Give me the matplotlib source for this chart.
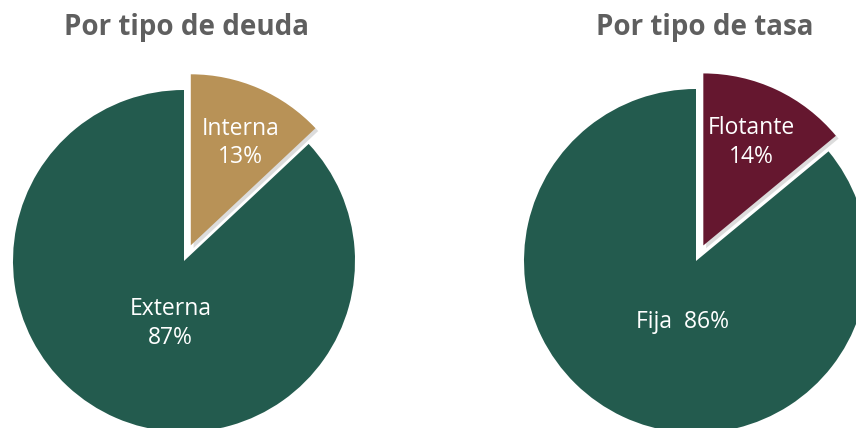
import matplotlib
matplotlib.use("Agg")
import matplotlib.pyplot as plt
import matplotlib.patheffects as pe

# data
deuda_labels = ["Interna", "Externa"]
deuda_values = [13, 87]
tasa_labels = ["Flotante", "Fija"]
tasa_values = [14, 86]

verde = "#235B4E"
dorado = "#B89257"
guinda = "#65172F"

plt.rcParams["font.family"] = ["Open Sans", "DejaVu Sans"]

fig = plt.figure(figsize=(8.56, 4.28), dpi=100)
W, H = 856, 428


def pie_axes(cx, cy, r):
    # cx, cy in pixels from top-left; r = pie radius in pixels
    half = 1.2 * r
    cy = H - cy
    ax = fig.add_axes([(cx - half) / W, (cy - half) / H, 2 * half / W, 2 * half / H])
    ax.set_xlim(-1.2, 1.2)
    ax.set_ylim(-1.2, 1.2)
    ax.set_aspect("equal")
    ax.axis("off")
    return ax


shadow = [pe.SimplePatchShadow(offset=(2, -2), alpha=0.25, shadow_rgbFace="#777777"), pe.Normal()]
lab = dict(color="white", ha="center", va="center", fontsize=16.5, linespacing=1.25)

# Por tipo de deuda
ax1 = pie_axes(184, 261, 171)
w1, _ = ax1.pie(deuda_values, colors=[dorado, verde], explode=[0.1, 0],
                startangle=90, counterclock=False, radius=1,
                wedgeprops=dict(linewidth=0))
w1[0].set_path_effects(shadow)
ax1.set_xlim(-1.2, 1.2)
ax1.set_ylim(-1.2, 1.2)
ax1.text(0.33, 0.69, f"{deuda_labels[0]}\n{deuda_values[0]}%", **lab)
ax1.text(-0.08, -0.365, f"{deuda_labels[1]}\n{deuda_values[1]}%", **lab)

# Por tipo de tasa
ax2 = pie_axes(696, 261, 172)
w2, _ = ax2.pie(tasa_values, colors=[guinda, verde], explode=[0.1, 0],
                startangle=90, counterclock=False, radius=1,
                wedgeprops=dict(linewidth=0))
w2[0].set_path_effects(shadow)
ax2.set_xlim(-1.2, 1.2)
ax2.set_ylim(-1.2, 1.2)
ax2.text(0.32, 0.69, f"{tasa_labels[0]}\n{tasa_values[0]}%", **lab)
ax2.text(-0.08, -0.355, f"{tasa_labels[1]}  {tasa_values[1]}%", **lab)

fig.text(187 / W, 1 - 28 / H, "Por tipo de deuda", ha="center", va="center",
         fontsize=20, fontweight="bold", color="#5F5F5F")
fig.text(705 / W, 1 - 28 / H, "Por tipo de tasa", ha="center", va="center",
         fontsize=20, fontweight="bold", color="#5F5F5F")

fig.savefig("out.png", dpi=100)
